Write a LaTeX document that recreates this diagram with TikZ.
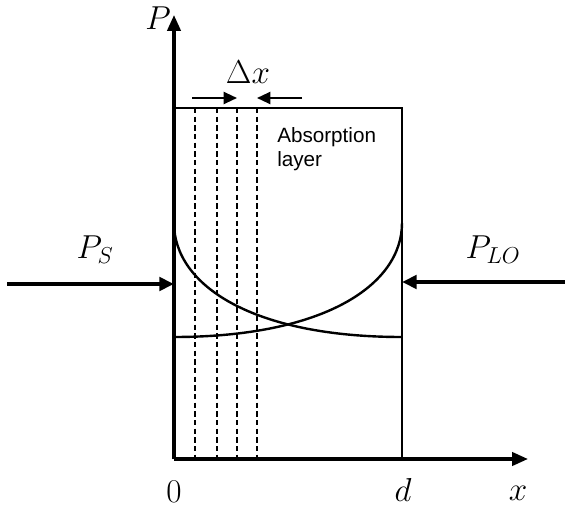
\documentclass[tikz,border=0pt]{standalone}
\usepackage{fontspec}
\usetikzlibrary{arrows.meta}
\newfontfamily\labelsans{Liberation Sans}
\begin{document}
\begin{tikzpicture}[x=0.75pt,y=-0.75pt,
  axis/.style={line width=2.5pt,-{Triangle[length=12pt,width=10pt]}},
  frame/.style={line width=1.8pt},
  slice/.style={line width=1pt,dash pattern=on 4pt off 2.5pt},
  curve/.style={line width=1.8pt},
  beam/.style={line width=3.2pt,-{Triangle[length=11pt,width=10pt]}},
  dxarrow/.style={line width=1.6pt,-{Triangle[length=10pt,width=9pt]}},
  mlabel/.style={inner sep=0pt,font=\fontsize{25}{29}\selectfont},
  tlabel/.style={inner sep=0pt,font=\labelsans\fontsize{15.5}{18.5}\selectfont,align=left}]
\useasboundingbox (0,0) rectangle (565,510);
% corner coordinates
\coordinate (O) at (174,459);
\coordinate (Ytip) at (174,15);
\coordinate (Xtip) at (528,459);
\coordinate (TL) at (174,108);
\coordinate (TR) at (402,108);
\coordinate (BR) at (402,459);
% dashed slices
\foreach \i/\xx in {1/195,2/217,3/237,4/257}{
  \coordinate (s\i t) at (\xx,108);
  \coordinate (s\i b) at (\xx,459);
  \draw[slice] (s\i t) -- (s\i b);
}
% frame
\draw[frame] (TL) -- (TR) -- (BR);
% curves
\coordinate (c1s) at (174,223);
\coordinate (c1e) at (402,337);
\coordinate (c2s) at (402,223);
\coordinate (c2e) at (174,337);
\draw[curve] (c1s) .. controls (174,285) and (252,337) .. (c1e);
\draw[curve] (c2s) .. controls (402,285) and (324,337) .. (c2e);
% axes
\draw[axis] (O) -- (Ytip);
\draw[axis] (O) -- (Xtip);
% delta x arrows
\coordinate (dxa1) at (192,98);
\coordinate (dxb1) at (237,98);
\coordinate (dxa2) at (302,98);
\coordinate (dxb2) at (257,98);
\draw[dxarrow] (dxa1) -- (dxb1);
\draw[dxarrow] (dxa2) -- (dxb2);
% beams
\coordinate (PSs) at (7,284);
\coordinate (PSe) at (174,284);
\coordinate (PLs) at (565,282);
\coordinate (PLe) at (402,282);
\draw[beam] (PSs) -- (PSe);
\draw[beam] (PLs) -- (PLe);
% labels
\node[mlabel] (lP) at (158,18) {$P$};
\node[mlabel] (ldx) at (248,72) {$\Delta x$};
\node[mlabel] (lPS) at (95,250) {$P_S$};
\node[mlabel] (lPLO) at (493,250) {$P_{LO}$};
\node[mlabel] (l0) at (174,492) {$0$};
\node[mlabel] (ld) at (403,490) {$d$};
\node[mlabel] (lx) at (518,493) {$x$};
\node[tlabel,anchor=north west] (abs) at (277,127) {Absorption\\layer};
\end{tikzpicture}
\end{document}
